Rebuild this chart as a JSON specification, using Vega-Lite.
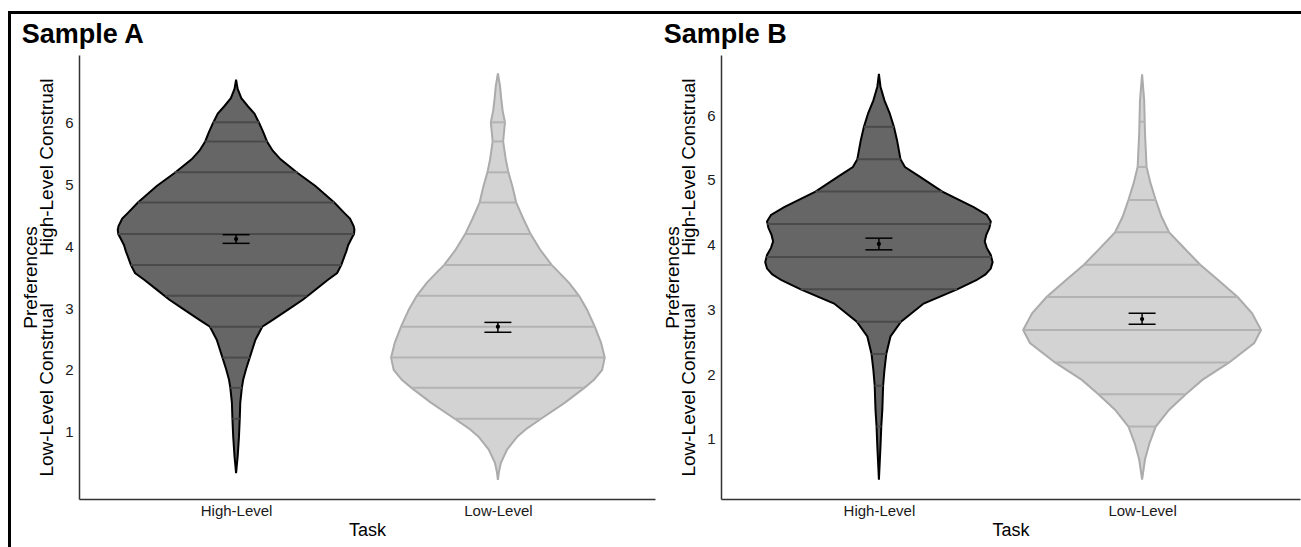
{
  "$schema": "https://vega.github.io/schema/vega-lite/v6.json",
  "padding": {"left": 8, "top": 11, "right": 0, "bottom": 0},
  "background": "white",
  "config": {"font": "Liberation Sans", "view": {"stroke": null}},
  "datasets": {
    "violin": [
      {"p":"A","task":"High-Level","y":0.33,"lo":1,"hi":1},
      {"p":"A","task":"High-Level","y":0.6,"lo":0.994,"hi":1.006},
      {"p":"A","task":"High-Level","y":0.92,"lo":0.989,"hi":1.011},
      {"p":"A","task":"High-Level","y":1.21,"lo":0.986,"hi":1.014},
      {"p":"A","task":"High-Level","y":1.47,"lo":0.984,"hi":1.016},
      {"p":"A","task":"High-Level","y":1.71,"lo":0.978,"hi":1.022},
      {"p":"A","task":"High-Level","y":1.84,"lo":0.973,"hi":1.027},
      {"p":"A","task":"High-Level","y":2.01,"lo":0.962,"hi":1.038},
      {"p":"A","task":"High-Level","y":2.2,"lo":0.948,"hi":1.052},
      {"p":"A","task":"High-Level","y":2.33,"lo":0.938,"hi":1.062},
      {"p":"A","task":"High-Level","y":2.49,"lo":0.926,"hi":1.074},
      {"p":"A","task":"High-Level","y":2.7,"lo":0.9,"hi":1.1},
      {"p":"A","task":"High-Level","y":2.81,"lo":0.86,"hi":1.14},
      {"p":"A","task":"High-Level","y":2.98,"lo":0.8,"hi":1.2},
      {"p":"A","task":"High-Level","y":3.14,"lo":0.744,"hi":1.256},
      {"p":"A","task":"High-Level","y":3.3,"lo":0.697,"hi":1.303},
      {"p":"A","task":"High-Level","y":3.46,"lo":0.649,"hi":1.351},
      {"p":"A","task":"High-Level","y":3.57,"lo":0.614,"hi":1.386},
      {"p":"A","task":"High-Level","y":3.7,"lo":0.598,"hi":1.402},
      {"p":"A","task":"High-Level","y":3.82,"lo":0.588,"hi":1.412},
      {"p":"A","task":"High-Level","y":3.92,"lo":0.579,"hi":1.421},
      {"p":"A","task":"High-Level","y":4.02,"lo":0.572,"hi":1.428},
      {"p":"A","task":"High-Level","y":4.12,"lo":0.56,"hi":1.44},
      {"p":"A","task":"High-Level","y":4.2,"lo":0.55,"hi":1.45},
      {"p":"A","task":"High-Level","y":4.27,"lo":0.548,"hi":1.452},
      {"p":"A","task":"High-Level","y":4.33,"lo":0.551,"hi":1.449},
      {"p":"A","task":"High-Level","y":4.45,"lo":0.565,"hi":1.435},
      {"p":"A","task":"High-Level","y":4.54,"lo":0.586,"hi":1.414},
      {"p":"A","task":"High-Level","y":4.71,"lo":0.625,"hi":1.375},
      {"p":"A","task":"High-Level","y":4.98,"lo":0.697,"hi":1.303},
      {"p":"A","task":"High-Level","y":5.19,"lo":0.765,"hi":1.235},
      {"p":"A","task":"High-Level","y":5.41,"lo":0.83,"hi":1.17},
      {"p":"A","task":"High-Level","y":5.55,"lo":0.86,"hi":1.14},
      {"p":"A","task":"High-Level","y":5.7,"lo":0.882,"hi":1.118},
      {"p":"A","task":"High-Level","y":5.84,"lo":0.895,"hi":1.105},
      {"p":"A","task":"High-Level","y":6.0,"lo":0.912,"hi":1.088},
      {"p":"A","task":"High-Level","y":6.15,"lo":0.93,"hi":1.07},
      {"p":"A","task":"High-Level","y":6.27,"lo":0.955,"hi":1.045},
      {"p":"A","task":"High-Level","y":6.4,"lo":0.98,"hi":1.02},
      {"p":"A","task":"High-Level","y":6.55,"lo":0.994,"hi":1.006},
      {"p":"A","task":"High-Level","y":6.7,"lo":1,"hi":1},

      {"p":"A","task":"Low-Level","y":0.22,"lo":2,"hi":2},
      {"p":"A","task":"Low-Level","y":0.35,"lo":1.996,"hi":2.004},
      {"p":"A","task":"Low-Level","y":0.49,"lo":1.989,"hi":2.011},
      {"p":"A","task":"Low-Level","y":0.71,"lo":1.965,"hi":2.035},
      {"p":"A","task":"Low-Level","y":0.92,"lo":1.926,"hi":2.074},
      {"p":"A","task":"Low-Level","y":1.05,"lo":1.89,"hi":2.11},
      {"p":"A","task":"Low-Level","y":1.21,"lo":1.835,"hi":2.165},
      {"p":"A","task":"Low-Level","y":1.47,"lo":1.744,"hi":2.256},
      {"p":"A","task":"Low-Level","y":1.71,"lo":1.67,"hi":2.33},
      {"p":"A","task":"Low-Level","y":1.84,"lo":1.633,"hi":2.367},
      {"p":"A","task":"Low-Level","y":2.0,"lo":1.602,"hi":2.398},
      {"p":"A","task":"Low-Level","y":2.2,"lo":1.592,"hi":2.408},
      {"p":"A","task":"Low-Level","y":2.44,"lo":1.606,"hi":2.394},
      {"p":"A","task":"Low-Level","y":2.7,"lo":1.63,"hi":2.37},
      {"p":"A","task":"Low-Level","y":2.98,"lo":1.66,"hi":2.34},
      {"p":"A","task":"Low-Level","y":3.2,"lo":1.69,"hi":2.31},
      {"p":"A","task":"Low-Level","y":3.41,"lo":1.728,"hi":2.272},
      {"p":"A","task":"Low-Level","y":3.62,"lo":1.776,"hi":2.224},
      {"p":"A","task":"Low-Level","y":3.7,"lo":1.795,"hi":2.205},
      {"p":"A","task":"Low-Level","y":3.95,"lo":1.839,"hi":2.161},
      {"p":"A","task":"Low-Level","y":4.2,"lo":1.875,"hi":2.125},
      {"p":"A","task":"Low-Level","y":4.44,"lo":1.902,"hi":2.098},
      {"p":"A","task":"Low-Level","y":4.71,"lo":1.93,"hi":2.07},
      {"p":"A","task":"Low-Level","y":4.98,"lo":1.945,"hi":2.055},
      {"p":"A","task":"Low-Level","y":5.2,"lo":1.96,"hi":2.04},
      {"p":"A","task":"Low-Level","y":5.41,"lo":1.97,"hi":2.03},
      {"p":"A","task":"Low-Level","y":5.7,"lo":1.98,"hi":2.02},
      {"p":"A","task":"Low-Level","y":6.01,"lo":1.973,"hi":2.027},
      {"p":"A","task":"Low-Level","y":6.2,"lo":1.982,"hi":2.018},
      {"p":"A","task":"Low-Level","y":6.38,"lo":1.987,"hi":2.013},
      {"p":"A","task":"Low-Level","y":6.6,"lo":1.992,"hi":2.008},
      {"p":"A","task":"Low-Level","y":6.8,"lo":2,"hi":2},

      {"p":"B","task":"High-Level","y":0.37,"lo":1,"hi":1},
      {"p":"B","task":"High-Level","y":0.88,"lo":0.994,"hi":1.006},
      {"p":"B","task":"High-Level","y":1.19,"lo":0.991,"hi":1.009},
      {"p":"B","task":"High-Level","y":1.45,"lo":0.987,"hi":1.013},
      {"p":"B","task":"High-Level","y":1.82,"lo":0.984,"hi":1.016},
      {"p":"B","task":"High-Level","y":2.06,"lo":0.979,"hi":1.021},
      {"p":"B","task":"High-Level","y":2.31,"lo":0.972,"hi":1.028},
      {"p":"B","task":"High-Level","y":2.58,"lo":0.956,"hi":1.044},
      {"p":"B","task":"High-Level","y":2.81,"lo":0.916,"hi":1.084},
      {"p":"B","task":"High-Level","y":3.09,"lo":0.83,"hi":1.17},
      {"p":"B","task":"High-Level","y":3.31,"lo":0.703,"hi":1.297},
      {"p":"B","task":"High-Level","y":3.45,"lo":0.63,"hi":1.37},
      {"p":"B","task":"High-Level","y":3.54,"lo":0.595,"hi":1.405},
      {"p":"B","task":"High-Level","y":3.63,"lo":0.575,"hi":1.425},
      {"p":"B","task":"High-Level","y":3.73,"lo":0.568,"hi":1.432},
      {"p":"B","task":"High-Level","y":3.84,"lo":0.575,"hi":1.425},
      {"p":"B","task":"High-Level","y":3.95,"lo":0.59,"hi":1.41},
      {"p":"B","task":"High-Level","y":4.05,"lo":0.598,"hi":1.402},
      {"p":"B","task":"High-Level","y":4.15,"lo":0.592,"hi":1.408},
      {"p":"B","task":"High-Level","y":4.26,"lo":0.58,"hi":1.42},
      {"p":"B","task":"High-Level","y":4.36,"lo":0.575,"hi":1.425},
      {"p":"B","task":"High-Level","y":4.46,"lo":0.59,"hi":1.41},
      {"p":"B","task":"High-Level","y":4.58,"lo":0.64,"hi":1.36},
      {"p":"B","task":"High-Level","y":4.82,"lo":0.759,"hi":1.241},
      {"p":"B","task":"High-Level","y":5.05,"lo":0.845,"hi":1.155},
      {"p":"B","task":"High-Level","y":5.2,"lo":0.901,"hi":1.099},
      {"p":"B","task":"High-Level","y":5.32,"lo":0.918,"hi":1.082},
      {"p":"B","task":"High-Level","y":5.61,"lo":0.931,"hi":1.069},
      {"p":"B","task":"High-Level","y":5.82,"lo":0.943,"hi":1.057},
      {"p":"B","task":"High-Level","y":6.03,"lo":0.959,"hi":1.041},
      {"p":"B","task":"High-Level","y":6.23,"lo":0.979,"hi":1.021},
      {"p":"B","task":"High-Level","y":6.44,"lo":0.994,"hi":1.006},
      {"p":"B","task":"High-Level","y":6.64,"lo":1,"hi":1},

      {"p":"B","task":"Low-Level","y":0.37,"lo":2,"hi":2},
      {"p":"B","task":"Low-Level","y":0.68,"lo":1.989,"hi":2.011},
      {"p":"B","task":"Low-Level","y":0.93,"lo":1.972,"hi":2.028},
      {"p":"B","task":"Low-Level","y":1.19,"lo":1.948,"hi":2.052},
      {"p":"B","task":"Low-Level","y":1.45,"lo":1.897,"hi":2.103},
      {"p":"B","task":"Low-Level","y":1.69,"lo":1.834,"hi":2.166},
      {"p":"B","task":"Low-Level","y":1.91,"lo":1.771,"hi":2.229},
      {"p":"B","task":"Low-Level","y":2.18,"lo":1.669,"hi":2.331},
      {"p":"B","task":"Low-Level","y":2.48,"lo":1.574,"hi":2.426},
      {"p":"B","task":"Low-Level","y":2.68,"lo":1.548,"hi":2.452},
      {"p":"B","task":"Low-Level","y":2.94,"lo":1.582,"hi":2.418},
      {"p":"B","task":"Low-Level","y":3.19,"lo":1.637,"hi":2.363},
      {"p":"B","task":"Low-Level","y":3.45,"lo":1.71,"hi":2.29},
      {"p":"B","task":"Low-Level","y":3.69,"lo":1.779,"hi":2.221},
      {"p":"B","task":"Low-Level","y":3.92,"lo":1.834,"hi":2.166},
      {"p":"B","task":"Low-Level","y":4.19,"lo":1.897,"hi":2.103},
      {"p":"B","task":"Low-Level","y":4.43,"lo":1.926,"hi":2.074},
      {"p":"B","task":"Low-Level","y":4.69,"lo":1.948,"hi":2.052},
      {"p":"B","task":"Low-Level","y":4.95,"lo":1.968,"hi":2.032},
      {"p":"B","task":"Low-Level","y":5.2,"lo":1.983,"hi":2.017},
      {"p":"B","task":"Low-Level","y":5.72,"lo":1.989,"hi":2.011},
      {"p":"B","task":"Low-Level","y":6.23,"lo":1.992,"hi":2.008},
      {"p":"B","task":"Low-Level","y":6.63,"lo":2,"hi":2}
    ],
    "quant": [
      {"p":"A","task":"High-Level","y":1.21,"lo":0.986,"hi":1.014},
      {"p":"A","task":"High-Level","y":1.71,"lo":0.978,"hi":1.022},
      {"p":"A","task":"High-Level","y":2.2,"lo":0.948,"hi":1.052},
      {"p":"A","task":"High-Level","y":2.7,"lo":0.9,"hi":1.1},
      {"p":"A","task":"High-Level","y":3.2,"lo":0.73,"hi":1.27},
      {"p":"A","task":"High-Level","y":3.7,"lo":0.598,"hi":1.402},
      {"p":"A","task":"High-Level","y":4.2,"lo":0.55,"hi":1.45},
      {"p":"A","task":"High-Level","y":4.71,"lo":0.625,"hi":1.375},
      {"p":"A","task":"High-Level","y":5.2,"lo":0.765,"hi":1.235},
      {"p":"A","task":"High-Level","y":5.7,"lo":0.882,"hi":1.118},
      {"p":"A","task":"High-Level","y":6.01,"lo":0.912,"hi":1.088},
      {"p":"A","task":"Low-Level","y":1.21,"lo":1.835,"hi":2.165},
      {"p":"A","task":"Low-Level","y":1.71,"lo":1.67,"hi":2.33},
      {"p":"A","task":"Low-Level","y":2.2,"lo":1.592,"hi":2.408},
      {"p":"A","task":"Low-Level","y":2.7,"lo":1.63,"hi":2.37},
      {"p":"A","task":"Low-Level","y":3.2,"lo":1.69,"hi":2.31},
      {"p":"A","task":"Low-Level","y":3.7,"lo":1.795,"hi":2.205},
      {"p":"A","task":"Low-Level","y":4.2,"lo":1.875,"hi":2.125},
      {"p":"A","task":"Low-Level","y":4.71,"lo":1.93,"hi":2.07},
      {"p":"A","task":"Low-Level","y":5.2,"lo":1.96,"hi":2.04},
      {"p":"A","task":"Low-Level","y":5.7,"lo":1.98,"hi":2.02},
      {"p":"A","task":"Low-Level","y":6.01,"lo":1.973,"hi":2.027},
      {"p":"B","task":"High-Level","y":1.19,"lo":0.991,"hi":1.009},
      {"p":"B","task":"High-Level","y":1.82,"lo":0.984,"hi":1.016},
      {"p":"B","task":"High-Level","y":2.31,"lo":0.972,"hi":1.028},
      {"p":"B","task":"High-Level","y":2.81,"lo":0.916,"hi":1.084},
      {"p":"B","task":"High-Level","y":3.31,"lo":0.703,"hi":1.297},
      {"p":"B","task":"High-Level","y":3.81,"lo":0.573,"hi":1.427},
      {"p":"B","task":"High-Level","y":4.32,"lo":0.576,"hi":1.424},
      {"p":"B","task":"High-Level","y":4.82,"lo":0.759,"hi":1.241},
      {"p":"B","task":"High-Level","y":5.32,"lo":0.918,"hi":1.082},
      {"p":"B","task":"High-Level","y":5.82,"lo":0.943,"hi":1.057},
      {"p":"B","task":"Low-Level","y":1.19,"lo":1.948,"hi":2.052},
      {"p":"B","task":"Low-Level","y":1.69,"lo":1.834,"hi":2.166},
      {"p":"B","task":"Low-Level","y":2.18,"lo":1.669,"hi":2.331},
      {"p":"B","task":"Low-Level","y":2.68,"lo":1.548,"hi":2.452},
      {"p":"B","task":"Low-Level","y":3.19,"lo":1.637,"hi":2.363},
      {"p":"B","task":"Low-Level","y":3.69,"lo":1.779,"hi":2.221},
      {"p":"B","task":"Low-Level","y":4.19,"lo":1.897,"hi":2.103},
      {"p":"B","task":"Low-Level","y":4.69,"lo":1.948,"hi":2.052},
      {"p":"B","task":"Low-Level","y":5.2,"lo":1.983,"hi":2.017},
      {"p":"B","task":"Low-Level","y":5.9,"lo":1.99,"hi":2.01}
    ],
    "means": [
      {"p":"A","task":"High-Level","tx":1,"mean":4.12,"lo":4.05,"hi":4.19},
      {"p":"A","task":"Low-Level","tx":2,"mean":2.7,"lo":2.61,"hi":2.77},
      {"p":"B","task":"High-Level","tx":1,"mean":4.01,"lo":3.92,"hi":4.1},
      {"p":"B","task":"Low-Level","tx":2,"mean":2.85,"lo":2.77,"hi":2.94}
    ]
  },
  "hconcat": [
    {"width": 3, "height": 536, "data": {"values": []}, "mark": "rect", "encoding": {}, "view": {"fill": "#000000", "stroke": null}},
    {
      "vconcat": [
        {"width": 1290, "height": 3, "data": {"values": []}, "mark": "rect", "encoding": {}, "view": {"fill": "#000000", "stroke": null}},
        {
          "hconcat": [
            {"width": 2, "height": 444, "data": {"values": []}, "mark": "rect", "encoding": {}},
            {
              "width": 576, "height": 444,
              "title": {"text": "Sample A", "anchor": "start", "fontSize": 27, "fontWeight": "bold", "color": "#000000", "offset": 6},
              "layer": [
                {
                  "data": {"name": "violin"},
                  "transform": [{"filter": "datum.p == 'A'"}],
                  "mark": {"type": "area", "orient": "horizontal", "strokeWidth": 2, "fillOpacity": 1},
                  "encoding": {
                    "y": {"field": "y", "type": "quantitative", "scale": {"domain": [-0.09, 7.1], "nice": false, "zero": false},
                      "axis": {"values": [1,2,3,4,5,6], "format": "d", "title": ["Preferences", "Low-Level Construal\u00a0\u00a0\u00a0\u00a0\u00a0\u00a0\u00a0\u00a0\u00a0High-Level Construal"], "ticks": false, "grid": false, "domainColor": "#333333", "domainWidth": 1.5, "labelFontSize": 15, "labelColor": "#1a1a1a", "labelPadding": 6, "titleFontSize": 19, "titleFontWeight": "normal", "titleColor": "#000000", "titleLineHeight": 16, "titlePadding": 8}},
                    "x": {"field": "lo", "type": "quantitative", "scale": {"domain": [0.4, 2.6], "nice": false, "zero": false},
                      "axis": {"values": [1,2], "labelExpr": "datum.value == 1 ? 'High-Level' : 'Low-Level'", "title": "Task", "ticks": false, "grid": false, "domainColor": "#333333", "domainWidth": 1.5, "labelFontSize": 15, "labelColor": "#1a1a1a", "labelPadding": 4, "titleFontSize": 18, "titleFontWeight": "normal", "titleColor": "#000000", "titlePadding": 3}},
                    "x2": {"field": "hi"},
                    "fill": {"field": "task", "type": "nominal", "scale": {"domain": ["High-Level","Low-Level"], "range": ["#666666","#d3d3d3"]}, "legend": null},
                    "stroke": {"field": "task", "type": "nominal", "scale": {"domain": ["High-Level","Low-Level"], "range": ["#000000","#ababab"]}, "legend": null}
                  }
                },
                {
                  "data": {"name": "quant"},
                  "transform": [{"filter": "datum.p == 'A'"}],
                  "mark": {"type": "rule", "strokeWidth": 2},
                  "encoding": {
                    "y": {"field": "y", "type": "quantitative"},
                    "x": {"field": "lo", "type": "quantitative"},
                    "x2": {"field": "hi"},
                    "color": {"field": "task", "type": "nominal", "scale": {"domain": ["High-Level","Low-Level"], "range": ["#4a4a4a","#b3b3b3"]}, "legend": null}
                  }
                },
                {
                  "data": {"name": "means"},
                  "transform": [{"filter": "datum.p == 'A'"}],
                  "mark": {"type": "rule", "strokeWidth": 1.5, "color": "#000000"},
                  "encoding": {"x": {"field": "tx", "type": "quantitative"}, "y": {"field": "lo", "type": "quantitative"}, "y2": {"field": "hi"}}
                },
                {
                  "data": {"name": "means"},
                  "transform": [{"filter": "datum.p == 'A'"}],
                  "mark": {"type": "tick", "orient": "horizontal", "size": 27, "thickness": 1.5, "color": "#000000", "opacity": 1},
                  "encoding": {"x": {"field": "tx", "type": "quantitative"}, "y": {"field": "lo", "type": "quantitative"}}
                },
                {
                  "data": {"name": "means"},
                  "transform": [{"filter": "datum.p == 'A'"}],
                  "mark": {"type": "tick", "orient": "horizontal", "size": 27, "thickness": 1.5, "color": "#000000", "opacity": 1},
                  "encoding": {"x": {"field": "tx", "type": "quantitative"}, "y": {"field": "hi", "type": "quantitative"}}
                },
                {
                  "data": {"name": "means"},
                  "transform": [{"filter": "datum.p == 'A'"}],
                  "mark": {"type": "point", "filled": true, "size": 18, "color": "#000000", "opacity": 1},
                  "encoding": {"x": {"field": "tx", "type": "quantitative"}, "y": {"field": "mean", "type": "quantitative"}}
                }
              ]
            },
            {
              "width": 579, "height": 444,
              "title": {"text": "Sample B", "anchor": "start", "fontSize": 27, "fontWeight": "bold", "color": "#000000", "offset": 6},
              "layer": [
                {
                  "data": {"name": "violin"},
                  "transform": [{"filter": "datum.p == 'B'"}],
                  "mark": {"type": "area", "orient": "horizontal", "strokeWidth": 2, "fillOpacity": 1},
                  "encoding": {
                    "y": {"field": "y", "type": "quantitative", "scale": {"domain": [0.07, 6.93], "nice": false, "zero": false},
                      "axis": {"values": [1,2,3,4,5,6], "format": "d", "title": ["Preferences", "Low-Level Construal\u00a0\u00a0\u00a0\u00a0\u00a0\u00a0\u00a0\u00a0\u00a0High-Level Construal"], "ticks": false, "grid": false, "domainColor": "#333333", "domainWidth": 1.5, "labelFontSize": 15, "labelColor": "#1a1a1a", "labelPadding": 6, "titleFontSize": 19, "titleFontWeight": "normal", "titleColor": "#000000", "titleLineHeight": 16, "titlePadding": 8}},
                    "x": {"field": "lo", "type": "quantitative", "scale": {"domain": [0.4, 2.6], "nice": false, "zero": false},
                      "axis": {"values": [1,2], "labelExpr": "datum.value == 1 ? 'High-Level' : 'Low-Level'", "title": "Task", "ticks": false, "grid": false, "domainColor": "#333333", "domainWidth": 1.5, "labelFontSize": 15, "labelColor": "#1a1a1a", "labelPadding": 4, "titleFontSize": 18, "titleFontWeight": "normal", "titleColor": "#000000", "titlePadding": 3}},
                    "x2": {"field": "hi"},
                    "fill": {"field": "task", "type": "nominal", "scale": {"domain": ["High-Level","Low-Level"], "range": ["#666666","#d3d3d3"]}, "legend": null},
                    "stroke": {"field": "task", "type": "nominal", "scale": {"domain": ["High-Level","Low-Level"], "range": ["#000000","#ababab"]}, "legend": null}
                  }
                },
                {
                  "data": {"name": "quant"},
                  "transform": [{"filter": "datum.p == 'B'"}],
                  "mark": {"type": "rule", "strokeWidth": 2},
                  "encoding": {
                    "y": {"field": "y", "type": "quantitative"},
                    "x": {"field": "lo", "type": "quantitative"},
                    "x2": {"field": "hi"},
                    "color": {"field": "task", "type": "nominal", "scale": {"domain": ["High-Level","Low-Level"], "range": ["#4a4a4a","#b3b3b3"]}, "legend": null}
                  }
                },
                {
                  "data": {"name": "means"},
                  "transform": [{"filter": "datum.p == 'B'"}],
                  "mark": {"type": "rule", "strokeWidth": 1.5, "color": "#000000"},
                  "encoding": {"x": {"field": "tx", "type": "quantitative"}, "y": {"field": "lo", "type": "quantitative"}, "y2": {"field": "hi"}}
                },
                {
                  "data": {"name": "means"},
                  "transform": [{"filter": "datum.p == 'B'"}],
                  "mark": {"type": "tick", "orient": "horizontal", "size": 27, "thickness": 1.5, "color": "#000000", "opacity": 1},
                  "encoding": {"x": {"field": "tx", "type": "quantitative"}, "y": {"field": "lo", "type": "quantitative"}}
                },
                {
                  "data": {"name": "means"},
                  "transform": [{"filter": "datum.p == 'B'"}],
                  "mark": {"type": "tick", "orient": "horizontal", "size": 27, "thickness": 1.5, "color": "#000000", "opacity": 1},
                  "encoding": {"x": {"field": "tx", "type": "quantitative"}, "y": {"field": "hi", "type": "quantitative"}}
                },
                {
                  "data": {"name": "means"},
                  "transform": [{"filter": "datum.p == 'B'"}],
                  "mark": {"type": "point", "filled": true, "size": 18, "color": "#000000", "opacity": 1},
                  "encoding": {"x": {"field": "tx", "type": "quantitative"}, "y": {"field": "mean", "type": "quantitative"}}
                }
              ]
            }
          ],
          "spacing": 66,
          "bounds": "flush"
        }
      ],
      "spacing": 41,
      "bounds": "flush"
    }
  ],
  "spacing": 0,
  "bounds": "flush"
}
